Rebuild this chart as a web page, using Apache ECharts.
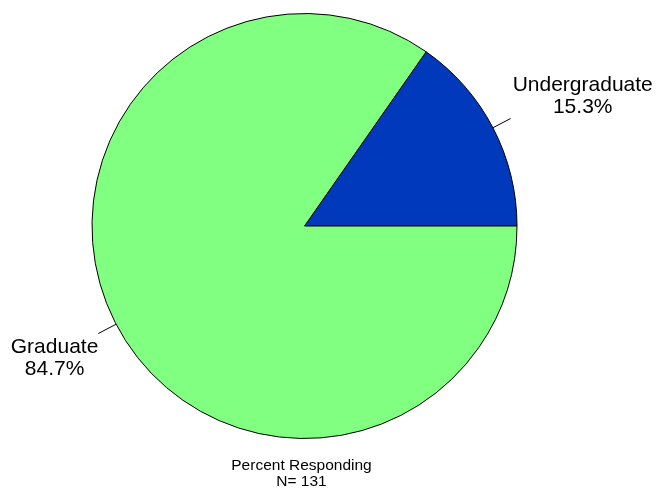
<!DOCTYPE html>
<html>
<head>
<meta charset="utf-8">
<title>Percent Responding</title>
<style>
    html, body { margin: 0; padding: 0; background: #fff; }
    #chart { width: 656px; height: 490px; }
</style>
</head>
<body>
<div id="chart"></div>
<script src="https://cdn.jsdelivr.net/npm/echarts@6/dist/echarts.min.js"></script>
<script>
    // data
    var categories = ['Undergraduate', 'Graduate'];
    var percents = [15.3, 84.7];
    var sliceColors = ['#0039BB', '#80FF80'];
    var footerLines = ['Percent Responding', 'N= 131'];

    var pieData = categories.map(function (name, i) {
        return {
            name: name,
            value: percents[i],
            itemStyle: { color: sliceColors[i] },
            // push the label block up (right side) or down (left side) of the line end
            label: { padding: i === 0 ? [0, 0, 44, 2] : [49, 0, 0, 0] }
        };
    });

    var chart = echarts.init(document.getElementById('chart'));
    var option = {
        animation: false,
        textStyle: { fontFamily: 'Liberation Sans, Arial, sans-serif' },
        graphic: [{
            type: 'text',
            x: 301.5,
            y: 458,
            style: {
                text: footerLines.join('\n'),
                align: 'center',
                verticalAlign: 'top',
                fontSize: 15.5,
                lineHeight: 16,
                fill: '#000',
                fontFamily: 'Liberation Sans, Arial, sans-serif'
            }
        }],
        series: [{
            type: 'pie',
            center: [304.5, 226],
            radius: 212.5,
            startAngle: 0,
            clockwise: false,
            avoidLabelOverlap: false,
            itemStyle: { borderColor: '#000', borderWidth: 1 },
            emphasis: { disabled: true },
            label: {
                show: true,
                position: 'outside',
                distanceToLabelLine: 0,
                formatter: '{a|{b}}\n{a|{c}%}',
                rich: {
                    a: { fontSize: 21, lineHeight: 22, color: '#000', align: 'center',
                         fontFamily: 'Liberation Sans, Arial, sans-serif' }
                }
            },
            labelLine: {
                show: true,
                length: 20,
                length2: 0,
                lineStyle: { color: '#000', width: 1 }
            },
            data: pieData
        }]
    };
    chart.setOption(option);
</script>
</body>
</html>
